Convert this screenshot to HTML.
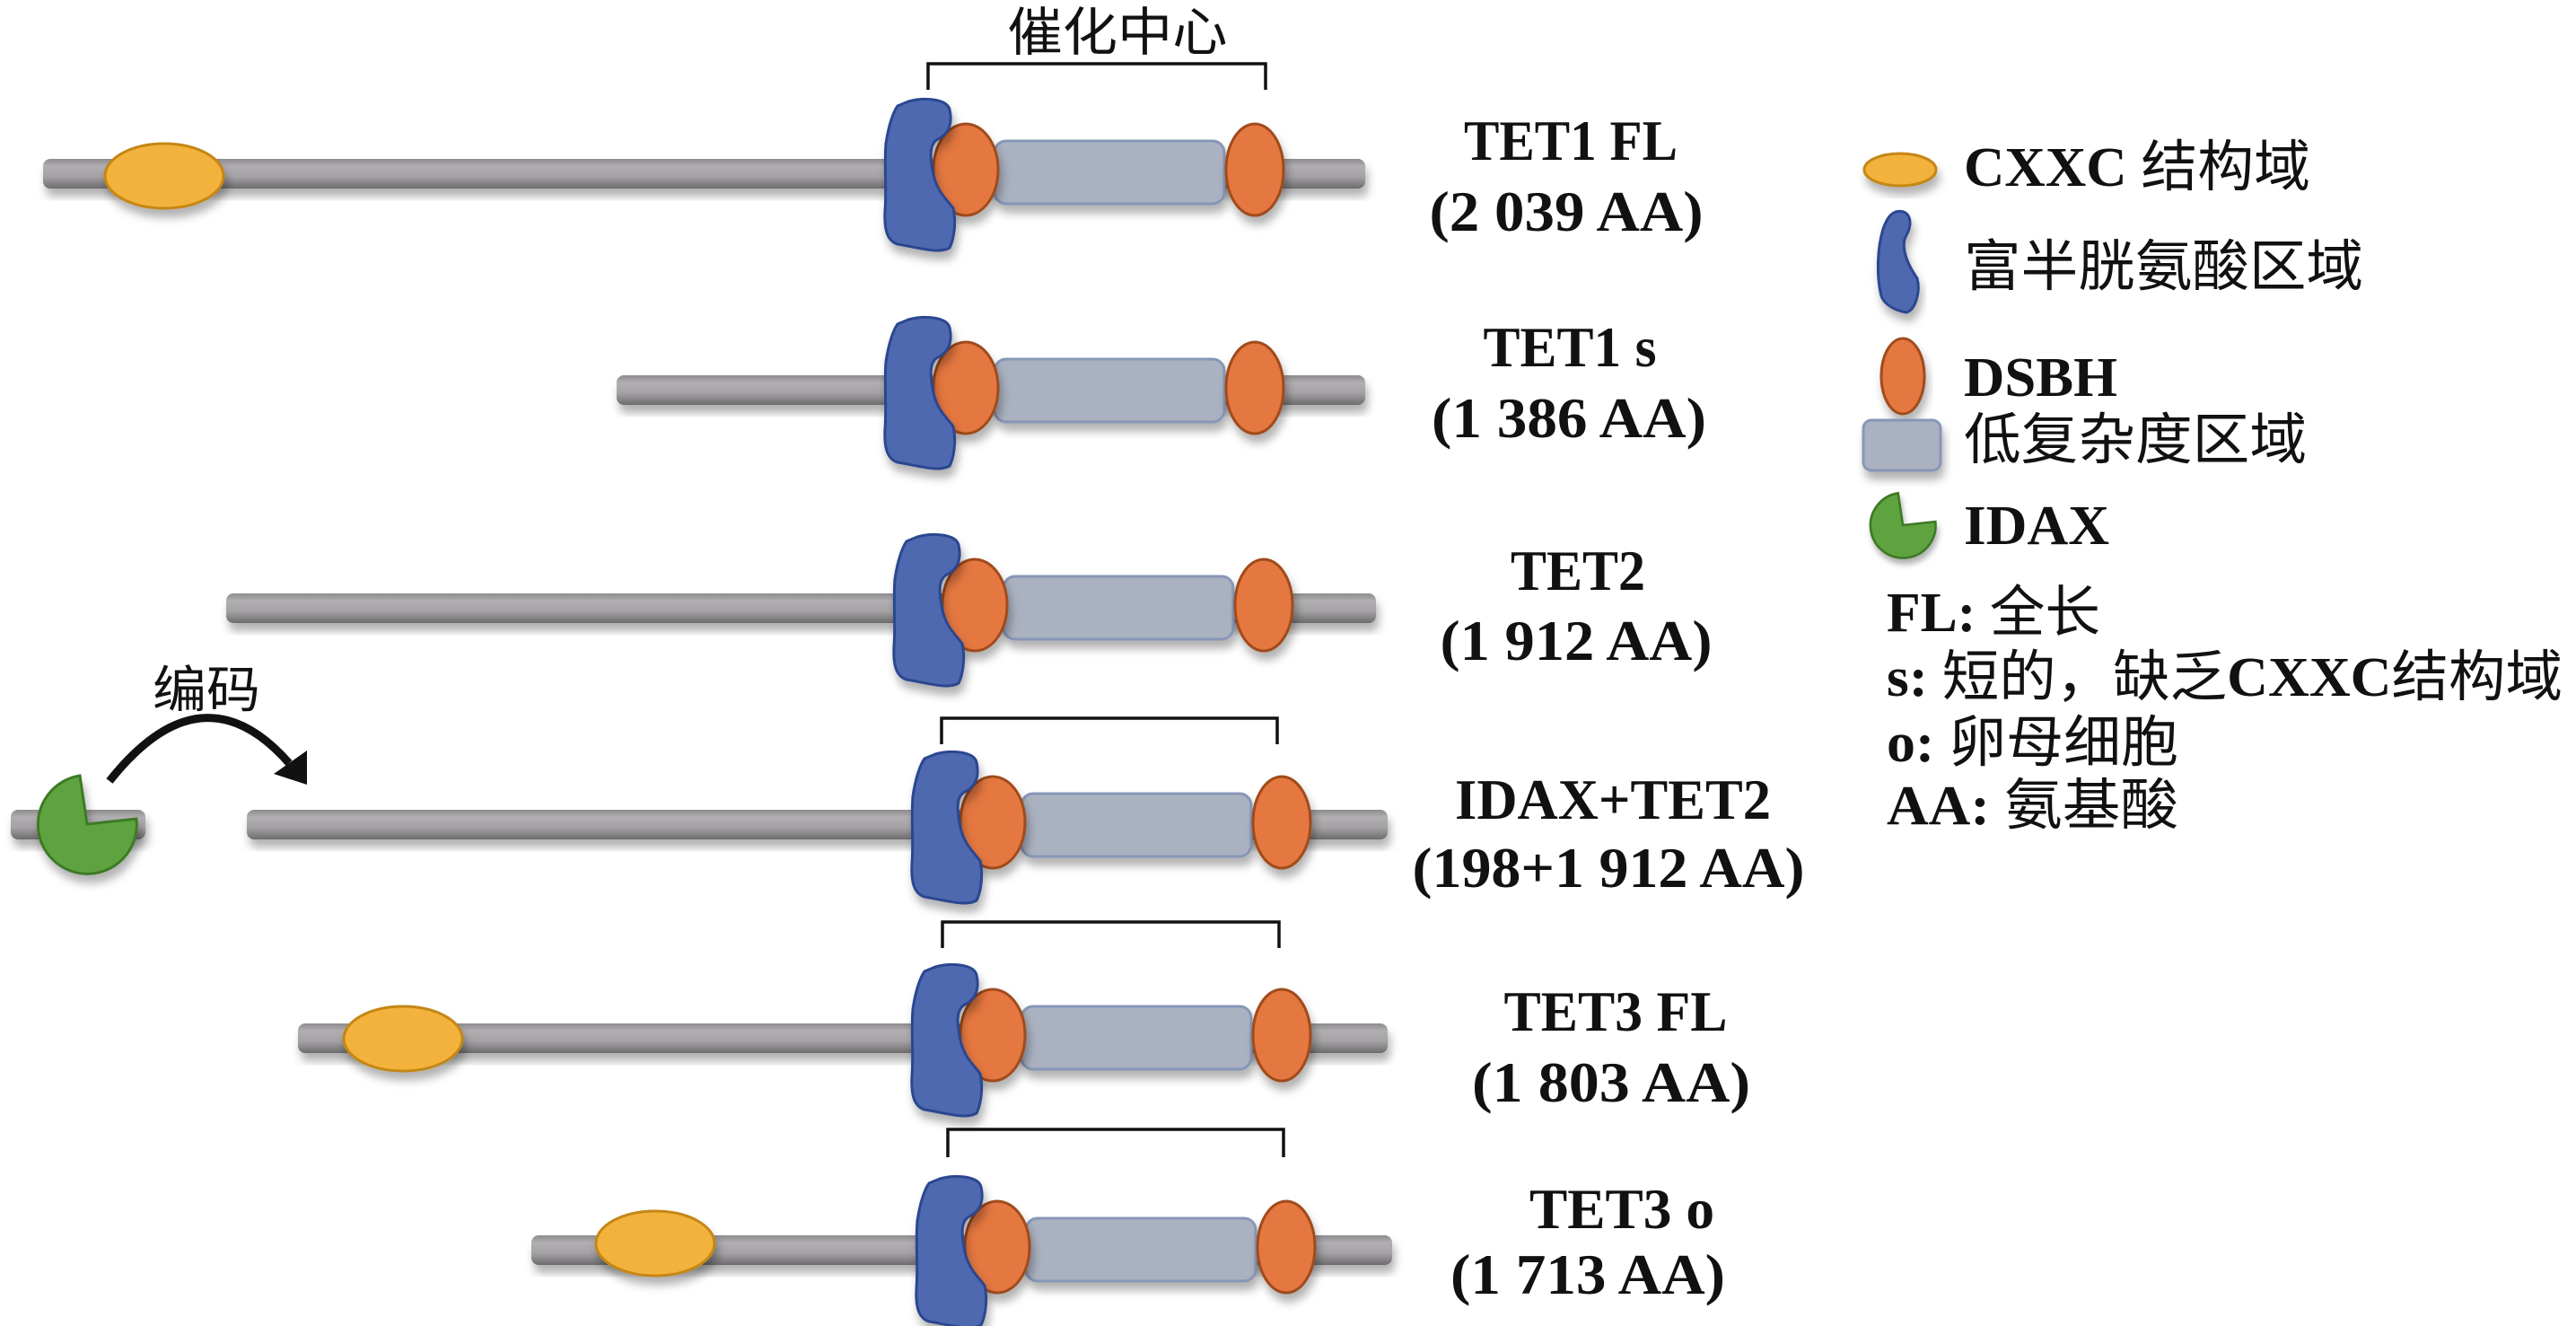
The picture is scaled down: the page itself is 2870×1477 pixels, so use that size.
<!DOCTYPE html>
<html><head><meta charset="utf-8"><style>html,body{margin:0;padding:0;background:#fff}svg{display:block}</style></head>
<body>
<svg width="2870" height="1477" viewBox="0 0 2870 1477" xmlns="http://www.w3.org/2000/svg">
<defs>
<filter id="sh" x="-20%" y="-20%" width="140%" height="160%"><feDropShadow dx="3" dy="9" stdDeviation="5" flood-color="#000" flood-opacity="0.3"/></filter>
<linearGradient id="bar" x1="0" y1="0" x2="0" y2="1"><stop offset="0" stop-color="#8e8c8e"/><stop offset="0.25" stop-color="#b0aeb0"/><stop offset="0.6" stop-color="#a4a2a4"/><stop offset="1" stop-color="#6e6c6e"/></linearGradient>
<g id="cluster">
 <rect x="1108" y="157" width="256" height="70" rx="13" fill="#aab1c0" stroke="#8797b8" stroke-width="3" filter="url(#sh)"/>
 <ellipse cx="1076" cy="189" rx="36" ry="51" fill="#e5773f" stroke="#a04b1c" stroke-width="3" filter="url(#sh)"/>
 <ellipse cx="1398" cy="189" rx="32" ry="51" fill="#e5773f" stroke="#a04b1c" stroke-width="3" filter="url(#sh)"/>
 <path d="M1012,113 C1030,108 1055,110 1058,122 C1062,140 1055,150 1045,155 C1035,160 1036,175 1040,195 C1045,215 1055,222 1062,232 C1066,250 1062,268 1058,276 C1045,283 1025,276 1000,272 C988,268 985,255 986,235 C988,210 985,185 987,160 C990,140 995,125 1000,118 Z" fill="#4f69b0" stroke="#2c4690" stroke-width="3" filter="url(#sh)"/>
</g>
<path id="pac" d="M0,0 L55,-6 A55,55 0 1 1 -8,-54 Z"/>
</defs>
<g font-family="'Liberation Serif','Noto Serif CJK SC',serif" font-weight="bold" fill="#111">

<!-- Row 1 -->
<rect x="48" y="177" width="1473" height="33" rx="8" fill="url(#bar)" filter="url(#sh)"/>
<ellipse cx="183" cy="196" rx="66" ry="36" fill="#f3b23a" stroke="#c48718" stroke-width="3" filter="url(#sh)"/>
<use href="#cluster"/>
<!-- Row 2 -->
<rect x="687" y="418" width="834" height="33" rx="8" fill="url(#bar)" filter="url(#sh)"/>
<use href="#cluster" transform="translate(0,243)"/>
<!-- Row 3 -->
<rect x="252" y="661" width="1281" height="33" rx="8" fill="url(#bar)" filter="url(#sh)"/>
<use href="#cluster" transform="translate(10,485)"/>
<!-- Row 4 -->
<rect x="12" y="902" width="150" height="33" rx="8" fill="url(#bar)" filter="url(#sh)"/>
<use href="#pac" transform="translate(97,918)" fill="#5fa33f" stroke="#3e7a28" stroke-width="3" filter="url(#sh)"/>
<rect x="275" y="902" width="1271" height="33" rx="8" fill="url(#bar)" filter="url(#sh)"/>
<use href="#cluster" transform="translate(30,727)"/>
<!-- Row 5 -->
<rect x="332" y="1140" width="1214" height="33" rx="8" fill="url(#bar)" filter="url(#sh)"/>
<ellipse cx="449" cy="1157" rx="66" ry="36" fill="#f3b23a" stroke="#c48718" stroke-width="3" filter="url(#sh)"/>
<use href="#cluster" transform="translate(30,964)"/>
<!-- Row 6 -->
<rect x="592" y="1376" width="959" height="33" rx="8" fill="url(#bar)" filter="url(#sh)"/>
<ellipse cx="730" cy="1385" rx="66" ry="36" fill="#f3b23a" stroke="#c48718" stroke-width="3" filter="url(#sh)"/>
<use href="#cluster" transform="translate(35,1200)"/>

<!-- brackets -->
<g fill="none" stroke="#111" stroke-width="3.5">
<path d="M1034,100 V71 H1410 V100"/>
<path d="M1049,829 V800 H1423 V829"/>
<path d="M1050,1056 V1027 H1425 V1056"/>
<path d="M1056,1289 V1258 H1430 V1289"/>
</g>
<text x="1245" y="56" font-size="58" text-anchor="middle" font-family="'Noto Sans CJK SC',sans-serif" font-weight="normal" textLength="245" lengthAdjust="spacingAndGlyphs">催化中心</text>

<!-- arrow -->
<path d="M122,870 Q225,740 322,850" fill="none" stroke="#111" stroke-width="9"/>
<polygon points="305,862 342,836 342,874" fill="#111"/>
<text x="230" y="788" font-size="56" text-anchor="middle" font-family="'Noto Sans CJK SC',sans-serif" font-weight="normal" textLength="120" lengthAdjust="spacingAndGlyphs">编码</text>

<!-- labels -->
<g font-size="64" text-anchor="middle">
<text x="1750" y="178" textLength="238" lengthAdjust="spacingAndGlyphs">TET1 FL</text>
<text x="1745" y="257" textLength="305" lengthAdjust="spacingAndGlyphs">(2 039 AA)</text>
<text x="1749" y="408" textLength="193" lengthAdjust="spacingAndGlyphs">TET1 s</text>
<text x="1748" y="487" textLength="306" lengthAdjust="spacingAndGlyphs">(1 386 AA)</text>
<text x="1758" y="657" textLength="150" lengthAdjust="spacingAndGlyphs">TET2</text>
<text x="1756" y="735" textLength="303" lengthAdjust="spacingAndGlyphs">(1 912 AA)</text>
<text x="1797" y="912" textLength="352" lengthAdjust="spacingAndGlyphs">IDAX+TET2</text>
<text x="1792" y="988" textLength="437" lengthAdjust="spacingAndGlyphs">(198+1 912 AA)</text>
<text x="1800" y="1148" textLength="249" lengthAdjust="spacingAndGlyphs">TET3 FL</text>
<text x="1795" y="1227" textLength="310" lengthAdjust="spacingAndGlyphs">(1 803 AA)</text>
<text x="1807" y="1368" textLength="206" lengthAdjust="spacingAndGlyphs">TET3 o</text>
<text x="1769" y="1441" textLength="306" lengthAdjust="spacingAndGlyphs">(1 713 AA)</text>
</g>

<!-- legend -->
<ellipse cx="2117" cy="189" rx="40" ry="18" fill="#f3b23a" stroke="#c48718" stroke-width="3" filter="url(#sh)"/>
<path d="M2112,236 C2128,232 2132,248 2124,262 C2118,272 2122,290 2136,310 C2140,325 2134,345 2124,348 C2112,346 2100,340 2096,330 C2090,305 2092,275 2098,255 C2102,244 2106,238 2112,236 Z" fill="#4f69b0" stroke="#2c4690" stroke-width="3" filter="url(#sh)"/>
<ellipse cx="2120" cy="419" rx="24" ry="42" fill="#e5773f" stroke="#a04b1c" stroke-width="3" filter="url(#sh)"/>
<rect x="2076" y="468" width="86" height="56" rx="9" fill="#aab1c0" stroke="#8797b8" stroke-width="3" filter="url(#sh)"/>
<use href="#pac" transform="translate(2120,585) scale(0.66)" fill="#5fa33f" stroke="#3e7a28" stroke-width="4" filter="url(#sh)"/>
<g font-size="62">
<text x="2188" y="207" textLength="386" lengthAdjust="spacingAndGlyphs">CXXC <tspan font-family="'Noto Sans CJK SC',sans-serif" font-weight="normal">结构域</tspan></text>
<text x="2188" y="318" textLength="445" lengthAdjust="spacingAndGlyphs" font-family="'Noto Sans CJK SC',sans-serif" font-weight="normal">富半胱氨酸区域</text>
<text x="2188" y="441" textLength="171" lengthAdjust="spacingAndGlyphs">DSBH</text>
<text x="2188" y="511" textLength="382" lengthAdjust="spacingAndGlyphs" font-family="'Noto Sans CJK SC',sans-serif" font-weight="normal">低复杂度区域</text>
<text x="2188" y="606" textLength="162" lengthAdjust="spacingAndGlyphs">IDAX</text>
<text x="2102" y="703" textLength="238" lengthAdjust="spacingAndGlyphs">FL: <tspan font-family="'Noto Sans CJK SC',sans-serif" font-weight="normal">全长</tspan></text>
<text x="2102" y="775" textLength="753" lengthAdjust="spacingAndGlyphs">s: <tspan font-family="'Noto Sans CJK SC',sans-serif" font-weight="normal">短的，缺乏</tspan>CXXC<tspan font-family="'Noto Sans CJK SC',sans-serif" font-weight="normal">结构域</tspan></text>
<text x="2102" y="848" textLength="325" lengthAdjust="spacingAndGlyphs">o: <tspan font-family="'Noto Sans CJK SC',sans-serif" font-weight="normal">卵母细胞</tspan></text>
<text x="2102" y="918" textLength="325" lengthAdjust="spacingAndGlyphs">AA: <tspan font-family="'Noto Sans CJK SC',sans-serif" font-weight="normal">氨基酸</tspan></text>
</g>
</g>
</svg>
</body></html>
